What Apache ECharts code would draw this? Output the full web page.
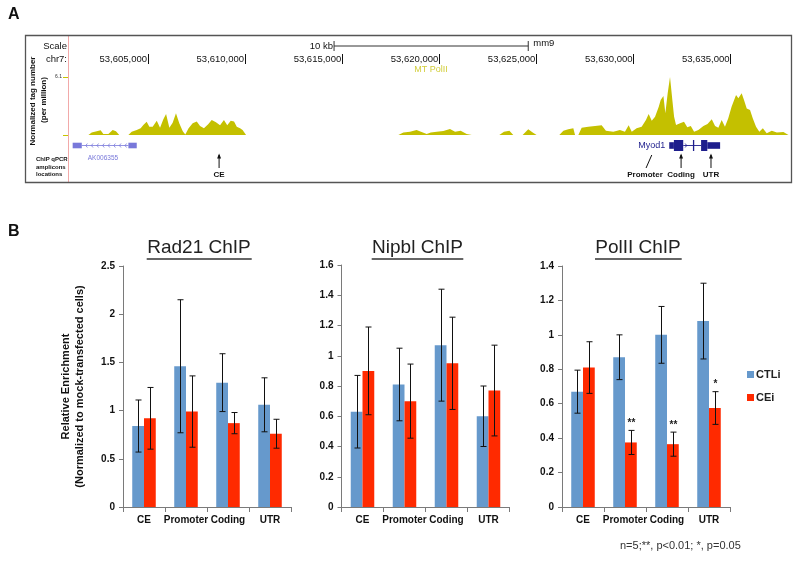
<!DOCTYPE html>
<html><head><meta charset="utf-8">
<script src="https://cdn.jsdelivr.net/npm/echarts@6.0.0/dist/echarts.min.js"></script>
<style>html,body{margin:0;padding:0;background:#fff}#c{width:800px;height:561px}</style>
</head><body><div id="c"></div>
<script>
// ---------------- Panel A data (genomic positions in kb on chr7) ----------------
const trackPos = [53601.93,53602.10,53602.36,53602.56,53602.70,53602.79,53602.96,53603.18,53603.35,53603.52,
 53603.99,53604.16,53604.42,53604.62,53604.76,53604.93,53605.07,53605.24,53605.45,53605.62,53605.79,53605.93,
 53606.10,53606.27,53606.44,53606.61,53606.79,53606.92,53607.09,53607.30,53607.51,53607.68,53607.88,53608.11,
 53608.28,53608.50,53608.71,53608.91,53609.08,53609.26,53609.43,53609.57,53609.74,53609.87,53610.05,
 53617.89,53618.15,53618.49,53618.83,53619.09,53619.35,53619.56,53619.87,53620.21,53620.55,53620.81,53621.10,53621.41,53621.67,
 53623.09,53623.33,53623.61,53623.81,53624.29,53624.58,53624.81,53625.01,
 53626.18,53626.39,53626.64,53626.90,53626.99,53627.16,53627.33,53627.67,53628.02,53628.36,53628.58,53628.96,
 53629.30,53629.56,53629.75,53629.91,53630.16,53630.42,53630.64,53630.78,53630.94,53631.11,53631.30,53631.40,
 53631.54,53631.64,53631.76,53631.88,53632.00,53632.09,53632.19,53632.40,53632.60,53632.77,53632.95,53633.12,
 53633.34,53633.60,53633.81,53634.03,53634.20,53634.37,53634.54,53634.71,53634.88,53635.05,53635.28,53635.40,
 53635.57,53635.69,53635.83,53636.00,53636.14,53636.31,53636.48,53636.66,53636.86,53637.12,53637.38,53637.72,53637.98];
const trackVal = [0,0.25,0.39,0.49,0.10,0,0.10,0.53,0.39,0,
 0,0.35,0.53,0.70,1.05,1.40,0.88,0.88,1.50,0.77,1.65,2.20,
 0.77,1.30,2.28,1.23,0.39,0.05,0.70,1.23,1.43,0.95,0.70,1.16,
 1.58,1.33,1.02,1.58,1.02,1.50,1.43,0.88,0.70,0.53,0,
 0,0.25,0.35,0.53,0.32,0.10,0.25,0.35,0.42,0.63,0.35,0.46,0.10,0,
 0,0.35,0.46,0,0,0.60,0.25,0,
 0,0.46,0.60,0.70,0,0,0.77,0.88,0.95,1.02,0.46,0.35,
 0.53,0.35,1.02,0.35,0.70,0.88,1.58,2.21,1.51,1.93,2.98,3.68,
 4.10,2.28,4.38,6.10,3.68,1.93,1.05,1.23,1.40,0.81,0.95,0.35,
 0.53,0.95,1.16,1.65,0.95,0.77,1.58,0.88,1.75,2.98,4.21,3.86,
 4.38,3.68,2.80,2.63,1.75,0.88,0.35,0.70,0.18,0.46,0.25,0.32,0];
const trackName = 'MT PolII';
const trackNamePos = 53619.57;
const trackMax = 6.1;
const coordTicks = [53605, 53610, 53615, 53620, 53625, 53630, 53635];
const scaleBar = [53614.58, 53624.58];
const akExons = [[53601.12, 53601.59], [53603.99, 53604.42]];
const akIntron = [53601.59, 53603.99];
const akLabelPos = 53602.68;
const myodCds = [[53632.08, 53632.56], [53633.06, 53633.11], [53633.48, 53633.80]];
const myodUtr = [[53631.84, 53632.08], [53633.80, 53634.46]];
const myodIntron = [53632.56, 53633.48];
const ampliconNames = ['CE', 'Promoter', 'Coding', 'UTR'];
const ampliconPos = [53608.66, 53630.94, 53632.45, 53633.99];

// ---------------- Panel B data ----------------
const categories = ['CE', 'Promoter', 'Coding', 'UTR'];
const rad21CTLi = [0.84, 1.46, 1.29, 1.06];
const rad21CTLiErr = [0.27, 0.69, 0.30, 0.28];
const rad21CEi = [0.92, 0.99, 0.87, 0.76];
const rad21CEiErr = [0.32, 0.37, 0.11, 0.15];
const nipblCTLi = [0.63, 0.81, 1.07, 0.60];
const nipblCTLiErr = [0.24, 0.24, 0.37, 0.20];
const nipblCEi = [0.90, 0.70, 0.95, 0.77];
const nipblCEiErr = [0.29, 0.245, 0.305, 0.30];
const pol2CTLi = [0.67, 0.87, 1.00, 1.08];
const pol2CTLiErr = [0.125, 0.13, 0.165, 0.22];
const pol2CEi = [0.81, 0.375, 0.365, 0.575];
const pol2CEiErr = [0.15, 0.07, 0.07, 0.095];
const pol2Sig = ['', '**', '**', '*'];
const chartTitles = ['Rad21 ChIP', 'Nipbl ChIP', 'PolII ChIP'];
const yMax = [2.5, 1.6, 1.4];
const yStep = [0.5, 0.2, 0.2];

// ---------------- styling ----------------
const FONT = 'Arial, "Liberation Sans", sans-serif';
const BLUE = '#6699CC', RED = '#FF2A00';
const TRACK = '#C4C000', AKC = '#7878DA', MYC = '#1E1E8C';

function annotRender(params, api) {
  const base = api.coord([coordTicks[0], 0])[1];
  const X = kb => api.coord([kb, 0])[0];
  const els = [];
  const ln = (x1, y1, x2, y2, c, w) => ({type: 'line', shape: {x1, y1, x2, y2}, style: {stroke: c || '#222', lineWidth: w || 1}});
  const tx = (t, x, y, font, fill, align, va) => ({type: 'text', style: {text: t, x, y, font, fill: fill || '#111', align: align || 'center', verticalAlign: va || 'middle'}});
  const sy = base - 89, s1 = X(scaleBar[0]), s2 = X(scaleBar[1]);
  els.push(ln(s1, sy, s2, sy, '#333'), ln(s1, sy - 5, s1, sy + 5, '#333'), ln(s2, sy - 5, s2, sy + 5, '#333'));
  els.push(tx('10 kb', s1 - 1, sy, '9.5px ' + FONT, '#111', 'right'));
  els.push(tx('mm9', s2 + 5, sy - 3, '9.5px ' + FONT, '#111', 'left'));
  els.push(tx(trackName, X(trackNamePos), base - 65, '9px ' + FONT, '#D2CE3A'));
  const gy = base + 10.5;
  els.push(ln(X(akIntron[0]), gy, X(akIntron[1]), gy, AKC, 0.8));
  for (let x = X(akIntron[0]) + 4; x < X(akIntron[1]) - 2; x += 5.6) {
    els.push({type: 'polyline', shape: {points: [[x + 1.6, gy - 2], [x, gy], [x + 1.6, gy + 2]]}, style: {stroke: AKC, lineWidth: 0.8, fill: null}});
  }
  akExons.forEach(e => els.push({type: 'rect', shape: {x: X(e[0]), y: gy - 2.8, width: X(e[1]) - X(e[0]), height: 5.6}, style: {fill: AKC}}));
  els.push(tx('AK006355', X(akLabelPos), gy + 12.5, '6.5px ' + FONT, AKC));
  els.push(ln(X(myodIntron[0]), gy, X(myodIntron[1]), gy, MYC, 0.9));
  const ax = X(myodIntron[0]) + 3.5;
  els.push({type: 'polyline', shape: {points: [[ax - 1.6, gy - 2], [ax, gy], [ax - 1.6, gy + 2]]}, style: {stroke: MYC, lineWidth: 0.8, fill: null}});
  myodUtr.forEach(e => els.push({type: 'rect', shape: {x: X(e[0]), y: gy - 3.3, width: X(e[1]) - X(e[0]), height: 6.6}, style: {fill: MYC}}));
  myodCds.forEach(e => els.push({type: 'rect', shape: {x: X(e[0]), y: gy - 5.5, width: Math.max(1.3, X(e[1]) - X(e[0])), height: 11}, style: {fill: MYC}}));
  els.push(tx('Myod1', X(myodUtr[0][0]) - 4, gy, '9px ' + FONT, MYC, 'right'));
  ampliconNames.forEach((n, i) => {
    const x = X(ampliconPos[i]);
    const tilt = n === 'Promoter';
    const bx = tilt ? x - 5.7 : x;
    els.push(ln(bx, base + 33, x, base + 20, '#111', 1));
    if (!tilt) els.push({type: 'polygon', shape: {points: [[x, base + 18.5], [x - 2, base + 23.5], [x + 2, base + 23.5]]}, style: {fill: '#111'}});
    els.push(tx(n, tilt ? bx - 1 : x, base + 40, 'bold 8px ' + FONT, '#111'));
  });
  return {type: 'group', children: els};
}

function errSeries(sname, xi, yi, means, errs, side, sig) {
  return {
    type: 'custom', name: sname, xAxisIndex: xi, yAxisIndex: yi, silent: true, z: 5,
    data: means.map((m, i) => [i, m - errs[i], m + errs[i]]),
    encode: {x: 0, y: [1, 2]},
    renderItem: function (params, api) {
      const i = api.value(0);
      const lo = api.coord([i, api.value(1)]), hi = api.coord([i, api.value(2)]);
      const cw = api.size([1, 0])[0];
      const x = Math.round(lo[0] + side * cw * 0.139) + 0.5;
      const st = {stroke: '#111', lineWidth: 1};
      const ch = [
        {type: 'line', shape: {x1: x, y1: lo[1], x2: x, y2: hi[1]}, style: st},
        {type: 'line', shape: {x1: x - 3, y1: lo[1], x2: x + 3, y2: lo[1]}, style: st},
        {type: 'line', shape: {x1: x - 3, y1: hi[1], x2: x + 3, y2: hi[1]}, style: st}
      ];
      if (sig && sig[params.dataIndex]) ch.push({type: 'text', style: {text: sig[params.dataIndex], x: x, y: hi[1] - 2, align: 'center', verticalAlign: 'bottom', font: 'bold 10px ' + FONT, fill: '#222'}});
      return {type: 'group', children: ch};
    }
  };
}

const gridsB = [{left: 123, top: 266, width: 168, height: 241}, {left: 341.5, top: 265, width: 168, height: 242}, {left: 562, top: 266, width: 168, height: 241}];
const dataB = [[rad21CTLi, rad21CTLiErr, rad21CEi, rad21CEiErr, null], [nipblCTLi, nipblCTLiErr, nipblCEi, nipblCEiErr, null], [pol2CTLi, pol2CTLiErr, pol2CEi, pol2CEiErr, pol2Sig]];

const grids = [{left: 68, right: 9, top: 77, height: 58}].concat(gridsB);
const xAxes = [
  {type: 'value', gridIndex: 0, min: 53600.88, max: 53638.11, show: false},
  {type: 'value', gridIndex: 0, min: 53600.88, max: 53638.11, position: 'top', offset: 13,
   axisLine: {show: false}, splitLine: {show: false},
   axisTick: {show: true, customValues: coordTicks, length: 10, lineStyle: {color: '#111', width: 1}},
   axisLabel: {customValues: coordTicks, align: 'right', verticalAlign: 'middle', margin: 5, padding: [0, 1, 0, 0],
     fontSize: 9.5, fontFamily: FONT, color: '#111', formatter: v => Math.round(v * 1000).toLocaleString('en-US')}}
];
const yAxes = [
  {type: 'value', gridIndex: 0, min: 0, max: trackMax, interval: trackMax, axisLine: {show: false}, splitLine: {show: false},
   axisTick: {show: true, length: 5, lineStyle: {color: '#C8C400'}},
   axisLabel: {margin: 6, fontSize: 5, fontFamily: FONT, color: '#333', formatter: v => v > 0 ? String(trackMax) : ''}}
];
const series = [
  {type: 'line', xAxisIndex: 0, yAxisIndex: 0, data: trackPos.map((p, i) => [p, trackVal[i]]), showSymbol: false, silent: true,
   lineStyle: {width: 0}, areaStyle: {color: TRACK, opacity: 1}},
  {type: 'custom', xAxisIndex: 1, yAxisIndex: 0, data: [[coordTicks[0], 0]], renderItem: annotRender, clip: false, silent: true, z: 10}
];
gridsB.forEach((g, k) => {
  const gi = k + 1, xi = k + 2, yi = k + 1;
  xAxes.push({type: 'category', gridIndex: gi, data: categories,
    axisLine: {lineStyle: {color: '#7a7a7a', width: 1}},
    axisTick: {show: true, interval: 0, length: 5, lineStyle: {color: '#7a7a7a'}},
    axisLabel: {interval: 0, margin: 8, fontSize: 10, fontWeight: 'bold', fontFamily: FONT, color: '#111'}});
  const ya = {type: 'value', gridIndex: gi, min: 0, max: yMax[k], interval: yStep[k],
    axisLine: {show: true, lineStyle: {color: '#7a7a7a', width: 1}},
    axisTick: {show: true, length: 4, lineStyle: {color: '#7a7a7a'}},
    splitLine: {show: false},
    axisLabel: {margin: 8, fontSize: 10, fontWeight: 'bold', fontFamily: FONT, color: '#111'}};
  if (k === 0) {
    ya.name = 'Relative Enrichment\n(Normalized to mock-transfected cells)';
    ya.nameLocation = 'middle'; ya.nameRotate = 90; ya.nameGap = 36;
    ya.nameTextStyle = {fontSize: 11, fontWeight: 'bold', fontFamily: FONT, color: '#111', lineHeight: 14};
  }
  yAxes.push(ya);
  const d = dataB[k];
  series.push({type: 'bar', name: 'CTLi', xAxisIndex: xi, yAxisIndex: yi, data: d[0], barWidth: '28%', barGap: '0%', itemStyle: {color: BLUE}, silent: true});
  series.push({type: 'bar', name: 'CEi', xAxisIndex: xi, yAxisIndex: yi, data: d[2], barWidth: '28%', barGap: '0%', itemStyle: {color: RED}, silent: true});
  series.push(errSeries('errCTLi' + k, xi, yi, d[0], d[1], -1, null));
  series.push(errSeries('errCEi' + k, xi, yi, d[2], d[3], 1, d[4]));
});

const titleCenters = [199, 417.5, 638];
const titles = chartTitles.map((t, k) => ({text: t, left: titleCenters[k], top: 238, textAlign: 'center', padding: 0,
  textStyle: {fontSize: 19, fontWeight: 'normal', fontFamily: FONT, color: '#222'}}));
const underline = [[146.7, 251.7], [371.7, 463.3], [595, 681.7]];

const graphic = [
  {type: 'rect', shape: {x: 25.5, y: 35.5, width: 766, height: 147}, style: {fill: null, stroke: '#555', lineWidth: 1.3}, z: 1},
  {type: 'line', shape: {x1: 68.5, y1: 36, x2: 68.5, y2: 182}, style: {stroke: '#F2A9A9', lineWidth: 1}},
  {type: 'text', style: {text: 'A', x: 8, y: 15, font: 'bold 16px ' + FONT, fill: '#111', verticalAlign: 'middle'}},
  {type: 'text', style: {text: 'B', x: 8, y: 232, font: 'bold 16px ' + FONT, fill: '#111', verticalAlign: 'middle'}},
  {type: 'text', style: {text: 'Scale', x: 67, y: 46, font: '9.5px ' + FONT, fill: '#111', align: 'right', verticalAlign: 'middle'}},
  {type: 'text', style: {text: 'chr7:', x: 67, y: 59, font: '9.5px ' + FONT, fill: '#111', align: 'right', verticalAlign: 'middle'}},
  {type: 'text', rotation: Math.PI / 2, x: 33, y: 101, style: {text: 'Normalized tag number', x: 0, y: 0, font: 'bold 8px ' + FONT, fill: '#111', align: 'center', verticalAlign: 'middle'}},
  {type: 'text', rotation: Math.PI / 2, x: 44, y: 100, style: {text: '(per million)', x: 0, y: 0, font: 'bold 8px ' + FONT, fill: '#111', align: 'center', verticalAlign: 'middle'}},
  {type: 'text', style: {text: 'ChIP qPCR\namplicons\nlocations', x: 36, y: 156, font: 'bold 6px ' + FONT, lineHeight: 7.5, fill: '#111', align: 'left', verticalAlign: 'top'}},
  {type: 'text', style: {text: 'n=5;**, p<0.01; *, p=0.05', x: 620, y: 546, font: '11px ' + FONT, fill: '#333', align: 'left', verticalAlign: 'middle'}}
].concat(underline.map(u => ({type: 'line', shape: {x1: u[0], y1: 259, x2: u[1], y2: 259}, style: {stroke: '#333', lineWidth: 1.5}})));

const option = {
  animation: false,
  backgroundColor: '#fff',
  title: titles,
  legend: {data: ['CTLi', 'CEi'], orient: 'vertical', left: 742, top: 364, icon: 'rect', itemWidth: 7, itemHeight: 7, itemGap: 12,
    textStyle: {fontSize: 11, fontWeight: 'bold', fontFamily: FONT, color: '#222', padding: [0, 0, 0, -3]}, selectedMode: false},
  grid: grids,
  xAxis: xAxes,
  yAxis: yAxes,
  series: series,
  graphic: graphic
};
const chart = echarts.init(document.getElementById('c'));
chart.setOption(option);
</script>
</body></html>
